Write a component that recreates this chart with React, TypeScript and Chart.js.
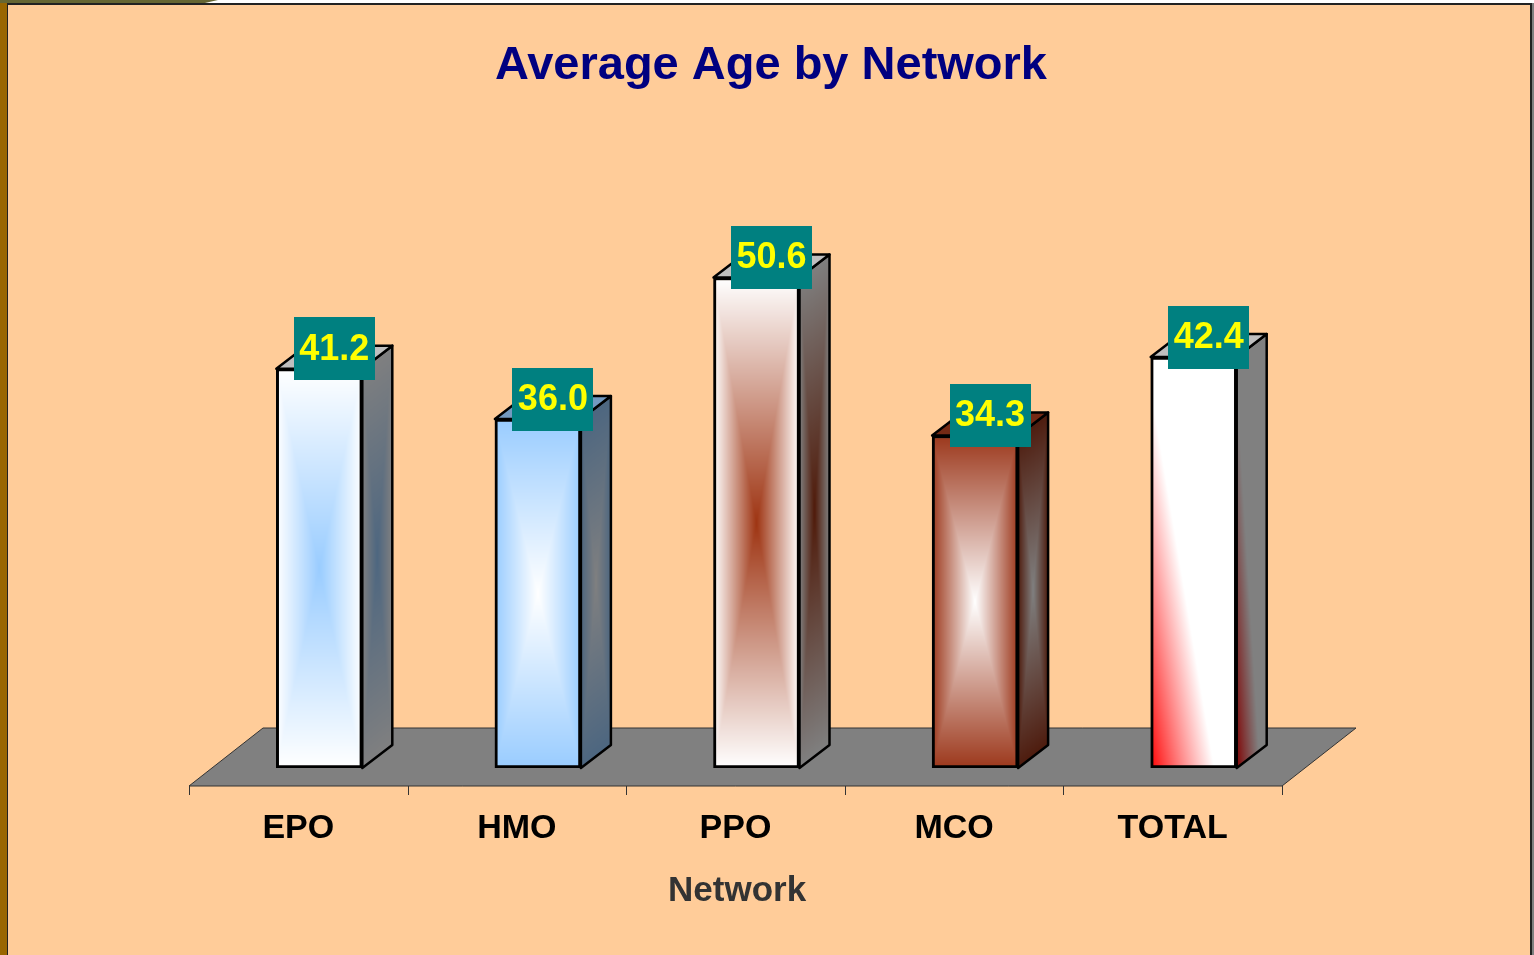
import React, { useEffect, useRef } from 'react';
import { Chart, registerables } from 'chart.js';

Chart.register(...registerables);

// ---------- data ----------
const categories = ['EPO', 'HMO', 'PPO', 'MCO', 'TOTAL'];
const averageAge = [41.2, 36.0, 50.6, 34.3, 42.4];
const valueLabels = ['41.2', '36.0', '50.6', '34.3', '42.4'];
const yMin = 0;
const yMax = 60;
const chartTitle = 'Average Age by Network';
const axisTitle = 'Network';

// ---------- styles ----------
type RGB = [number, number, number];
const fillKinds = ['rect', 'rect', 'rect', 'rect', 'diag'];
const centerColors: RGB[] = [
  [153, 204, 255],
  [255, 255, 255],
  [158, 52, 18],
  [255, 255, 255],
  [255, 0, 0],
];
const edgeColors: RGB[] = [
  [255, 255, 255],
  [153, 204, 255],
  [255, 255, 255],
  [156, 56, 28],
  [255, 255, 255],
];

const W = 1534;
const H = 955;
const FONT = '"Liberation Sans", Arial, sans-serif';
const BAR_W = 86;
const DX = 30;
const DY = 23;
const FLOOR_SHIFT_X = -21;
const FLOOR_FRONT_DY = 18;
const FLOOR_DEPTH_X = 74;
const FLOOR_DEPTH_Y = 58;

function makeTexture(w: number, h: number, kind: string, c0: RGB, c1: RGB, shade: number) {
  const cv = document.createElement('canvas');
  const cw = Math.max(1, Math.round(w));
  const ch = Math.max(1, Math.round(h));
  cv.width = cw;
  cv.height = ch;
  const ctx = cv.getContext('2d')!;
  const img = ctx.createImageData(cw, ch);
  for (let y = 0; y < ch; y++) {
    for (let x = 0; x < cw; x++) {
      let t: number;
      if (kind === 'rect') {
        const u = Math.abs(((x + 0.5) / cw) * 2 - 1);
        const v = Math.abs(((y + 0.5) / ch) * 2 - 1);
        t = Math.max(u, v);
      } else {
        const u = (x + 0.5) / cw;
        const v = (y + 0.5) / ch;
        t = Math.min(1, (u + 0.8 * (1 - v)) / 0.74);
        t = Math.pow(t, 0.9);
      }
      const k = (y * cw + x) * 4;
      img.data[k] = (c0[0] + (c1[0] - c0[0]) * t) * shade;
      img.data[k + 1] = (c0[1] + (c1[1] - c0[1]) * t) * shade;
      img.data[k + 2] = (c0[2] + (c1[2] - c0[2]) * t) * shade;
      img.data[k + 3] = 255;
    }
  }
  ctx.putImageData(img, 0, 0);
  return cv;
}

function frontFill(ctx: any) {
  const chart = ctx.chart;
  if (ctx.type !== 'data' || !chart.chartArea || !chart.scales.x || !chart.scales.y) return '#ffffff';
  const i = ctx.dataIndex;
  const xs = chart.scales.x;
  const ys = chart.scales.y;
  const cx = xs.getPixelForValue(i);
  const top = ys.getPixelForValue(averageAge[i]);
  const base = ys.getPixelForValue(0);
  const tex = makeTexture(BAR_W, base - top, fillKinds[i], centerColors[i], edgeColors[i], 1);
  const pat = chart.ctx.createPattern(tex, 'no-repeat');
  pat.setTransform(new DOMMatrix([1, 0, 0, 1, cx - BAR_W / 2, top]));
  return pat;
}

const bar3d = {
  id: 'bar3d',
  beforeDatasetsDraw(chart: any) {
    const ctx = chart.ctx;
    const ca = chart.chartArea;
    const fy = ca.bottom + FLOOR_FRONT_DY;
    const fl = ca.left + FLOOR_SHIFT_X;
    const fr = ca.right + FLOOR_SHIFT_X;
    ctx.save();
    ctx.beginPath();
    ctx.moveTo(fl, fy);
    ctx.lineTo(fl + FLOOR_DEPTH_X, fy - FLOOR_DEPTH_Y);
    ctx.lineTo(fr + FLOOR_DEPTH_X, fy - FLOOR_DEPTH_Y);
    ctx.lineTo(fr, fy);
    ctx.closePath();
    ctx.fillStyle = '#808080';
    ctx.fill();
    ctx.strokeStyle = '#333333';
    ctx.lineWidth = 1;
    ctx.stroke();
    // tick marks along front edge
    const n = categories.length;
    ctx.beginPath();
    for (let i = 0; i <= n; i++) {
      const x = Math.round(fl + (i * (fr - fl)) / n) + 0.5;
      ctx.moveTo(x, fy);
      ctx.lineTo(x, fy + 9);
    }
    ctx.stroke();
    ctx.restore();
  },
  afterDatasetsDraw(chart: any) {
    const ctx = chart.ctx;
    const meta = chart.getDatasetMeta(0);
    ctx.save();
    meta.data.forEach((el: any, i: number) => {
      const { x, y, base, width } = el.getProps(['x', 'y', 'base', 'width'], true);
      const xL = x - width / 2;
      const xR = x + width / 2;
      const h = base - y;
      // side face
      const tex = makeTexture(DX, h, fillKinds[i], centerColors[i], edgeColors[i], 0.5);
      const pat = ctx.createPattern(tex, 'no-repeat');
      pat.setTransform(new DOMMatrix([1, -DY / DX, 0, 1, xR, y]));
      ctx.beginPath();
      ctx.moveTo(xR, y);
      ctx.lineTo(xR + DX, y - DY);
      ctx.lineTo(xR + DX, base - DY);
      ctx.lineTo(xR, base);
      ctx.closePath();
      ctx.fillStyle = pat;
      ctx.fill();
      ctx.lineWidth = 2.5;
      ctx.lineJoin = 'round';
      ctx.strokeStyle = '#000000';
      ctx.stroke();
      // top face
      const c = edgeColors[i];
      ctx.beginPath();
      ctx.moveTo(xL, y);
      ctx.lineTo(xL + DX, y - DY);
      ctx.lineTo(xR + DX, y - DY);
      ctx.lineTo(xR, y);
      ctx.closePath();
      ctx.fillStyle = `rgb(${Math.round(c[0] * 0.75)},${Math.round(c[1] * 0.75)},${Math.round(c[2] * 0.75)})`;
      ctx.fill();
      ctx.stroke();
    });
    // value labels
    meta.data.forEach((el: any, i: number) => {
      const { x, y } = el.getProps(['x', 'y'], true);
      const bx = x + 15;
      const by = y - 20;
      ctx.fillStyle = '#008080';
      ctx.fillRect(Math.round(bx - 40.5), Math.round(by - 31.5), 81, 63);
      ctx.fillStyle = '#FFFF00';
      ctx.font = `bold 36px ${FONT}`;
      ctx.textAlign = 'center';
      ctx.textBaseline = 'middle';
      ctx.fillText(valueLabels[i], bx, by + 1);
    });
    ctx.restore();
  },
};

export default function App() {
  const ref = useRef<HTMLCanvasElement>(null);

  useEffect(() => {
    const canvas = ref.current;
    if (!canvas) return;
    const chart = new Chart(canvas, {
      type: 'bar',
      data: {
        labels: categories,
        datasets: [
          {
            label: 'Average Age',
            data: averageAge,
            backgroundColor: frontFill as any,
            borderColor: '#000000',
            borderWidth: 3,
            borderSkipped: false,
            barThickness: BAR_W,
          },
        ],
      },
      options: {
        responsive: false,
        animation: false,
        devicePixelRatio: 1,
        layout: { padding: { left: 8, right: 0, top: 0, bottom: 0 } },
        plugins: {
          legend: { display: false },
          tooltip: { enabled: false },
          title: {
            display: true,
            text: chartTitle,
            color: '#000080',
            font: { family: FONT, size: 47, weight: 'bold', lineHeight: 1.2 },
            padding: { top: 38, bottom: 92 },
          },
        },
        scales: {
          x: {
            type: 'category',
            position: 'bottom',
            offset: true,
            grid: { display: false, drawTicks: false },
            border: { display: false },
            ticks: {
              color: '#000000',
              font: { family: FONT, size: 34, weight: 'bold' },
              padding: 40,
              labelOffset: FLOOR_SHIFT_X,
              maxRotation: 0,
              autoSkip: false,
            },
            title: {
              display: true,
              text: axisTitle + '\u00A0\u00A0\u00A0\u00A0',
              color: '#333333',
              font: { family: FONT, size: 35, weight: 'bold', lineHeight: 1.2 },
              padding: { top: 0, bottom: 43 },
            },
            afterFit: (s: any) => {
              s.height = 187;
            },
          },
          y: {
            type: 'linear',
            position: 'left',
            min: yMin,
            max: yMax,
            ticks: { display: false },
            grid: { display: false },
            border: { display: false },
            afterFit: (s: any) => {
              s.width = 202;
            },
          },
          y2: {
            type: 'linear',
            position: 'right',
            display: true,
            min: yMin,
            max: yMax,
            ticks: { display: false },
            grid: { display: false },
            border: { display: false },
            afterFit: (s: any) => {
              s.width = 231;
            },
          },
        },
      } as any,
      plugins: [bar3d as any],
    });
    return () => chart.destroy();
  }, []);

  return (
    <div
      style={{
        position: 'absolute',
        left: 0,
        top: 0,
        width: W,
        height: H,
        overflow: 'hidden',
        background: '#ffffff',
      }}
    >
      <div
        style={{
          position: 'absolute',
          left: 0,
          top: 0,
          width: 218,
          height: 4,
          background: '#666633',
          clipPath: 'polygon(0 0, 100% 0, 92% 100%, 0 100%)',
        }}
      />
      <div style={{ position: 'absolute', left: 0, top: 3, width: 7, height: H - 3, background: '#996600' }} />
      <div
        style={{
          position: 'absolute',
          left: 7,
          top: 3,
          width: 1525,
          height: H - 3,
          boxSizing: 'border-box',
          background: '#FFCC99',
          borderTop: '2px solid #222222',
          borderLeft: '1px solid #222222',
          borderRight: '2px solid #222222',
        }}
      />
      <div style={{ position: 'absolute', left: 1532, top: 3, width: 2, height: H - 3, background: '#808080' }} />
      <canvas
        ref={ref}
        width={W}
        height={H}
        style={{ position: 'absolute', left: 0, top: 0, width: W, height: H, display: 'block' }}
      />
    </div>
  );
}
